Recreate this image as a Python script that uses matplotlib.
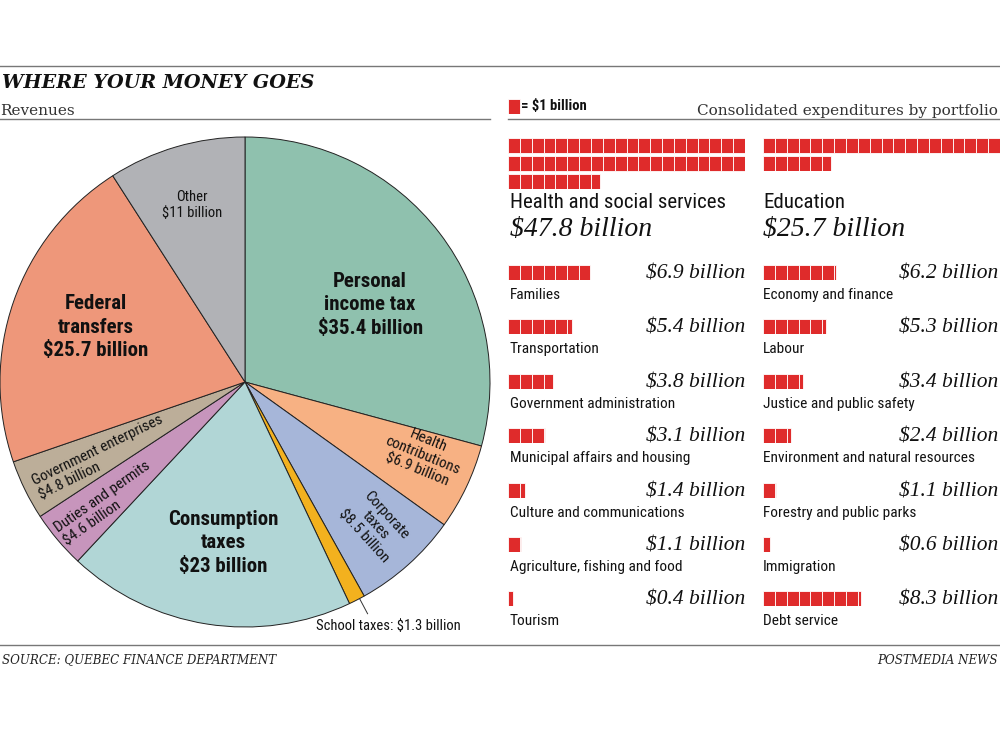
import os
import numpy as np
import matplotlib
matplotlib.use('Agg')
import matplotlib.pyplot as plt
from matplotlib import font_manager as fm

# ---------------- data ----------------
rev_labels = ['Personal income tax', 'Health contributions', 'Corporate taxes',
              'School taxes', 'Consumption taxes', 'Duties and permits',
              'Government enterprises', 'Federal transfers', 'Other']
rev_values = [35.4, 6.9, 8.5, 1.3, 23.0, 4.6, 4.8, 25.7, 11.0]
rev_text = ['Personal\nincome tax\n$35.4 billion',
            'Health\ncontributions\n$6.9 billion',
            'Corporate\ntaxes\n$8.5 billion',
            'School taxes: $1.3 billion',
            'Consumption\ntaxes\n$23 billion',
            'Duties and permits\n$4.6 billion',
            'Government enterprises\n$4.8 billion',
            'Federal\ntransfers\n$25.7 billion',
            'Other\n$11 billion']

big_labels = ['Health and social services', 'Education']
big_values = [47.8, 25.7]

left_labels = ['Families', 'Transportation', 'Government administration',
               'Municipal affairs and housing', 'Culture and communications',
               'Agriculture, fishing and food', 'Tourism']
left_values = [6.9, 5.4, 3.8, 3.1, 1.4, 1.1, 0.4]

right_labels = ['Economy and finance', 'Labour', 'Justice and public safety',
                'Environment and natural resources', 'Forestry and public parks',
                'Immigration', 'Debt service']
right_values = [6.2, 5.3, 3.4, 2.4, 1.1, 0.6, 8.3]

# ---------------- fonts ----------------
_files = sorted({f.fname for f in fm.fontManager.ttflist})
_base = {os.path.basename(f).lower(): f for f in _files}


def _find(names, generic_bold):
    for n in names:
        if n.lower() in _base:
            return _base[n.lower()]
    for b, f in _base.items():
        if ('narrow' in b or 'condensed' in b or 'cond' in b) and \
                'italic' not in b and 'oblique' not in b and 'mono' not in b:
            isb = 'bold' in b and 'semibold' not in b and 'extrabold' not in b
            other = any(k in b for k in ['light', 'thin', 'medium', 'black',
                                         'semibold', 'extrabold', 'extralight'])
            if generic_bold and isb and not other:
                return f
            if not generic_bold and not isb and not other and 'bold' not in b:
                return f
    return None


_reg = _find(['LiberationSansNarrow-Regular.ttf', 'RobotoCondensed-Regular.ttf',
              'NotoSans-SemiCondensed.ttf', 'NotoSans-Condensed.ttf',
              'OpenSans-CondensedRegular.ttf', 'DejaVuSansCondensed.ttf'], False)
_bold = _find(['LiberationSansNarrow-Bold.ttf', 'RobotoCondensed-Bold.ttf',
               'NotoSans-SemiCondensedBold.ttf', 'NotoSans-CondensedBold.ttf',
               'OpenSans-CondensedBold.ttf', 'DejaVuSansCondensed-Bold.ttf'], True)


def sans(size, bold=False):
    f = _bold if bold else _reg
    if f is None:
        return fm.FontProperties(family=['Liberation Sans', 'DejaVu Sans'],
                                 weight='bold' if bold else 'normal', size=size)
    return fm.FontProperties(fname=f, size=size)


# ---------------- style ----------------
W, H = 1000, 750
pie_colors = ['#8fc1ae', '#f7b183', '#a6b6d9', '#f3b11e', '#b1d6d6',
              '#c795bc', '#bcae99', '#ee977a', '#b1b2b6']
RED = '#df2b2b'
RULE = '#777777'
SERIF = ['DejaVu Serif']
ISERIF = ['Liberation Serif', 'DejaVu Serif']

# per wedge label placement:
# (radius, angle offset, rotation (None = horizontal), size, bold, align, linespacing)
label_style = [
    (0.60, -5.8, None, 15, True, 'center', 1.32),
    (0.785, 3.0, 'radial', 11, False, 'center', 1.12),
    (0.79, 0.6, 'radial', 11, False, 'center', 1.12),
    None,
    (0.663, 1.1, None, 15, True, 'center', 1.32),
    (0.751, 1.1, 35, 11, False, 'left', 1.12),
    (0.665, 1.3, 26, 11, False, 'left', 1.12),
    (0.648, -1.1, None, 15, True, 'center', 1.32),
    (0.754, 0.4, None, 10.5, False, 'center', 1.2),
]

fig = plt.figure(figsize=(W / 100, H / 100), dpi=100)
bg = fig.add_axes([0, 0, 1, 1])
bg.set_xlim(0, W)
bg.set_ylim(H, 0)
bg.axis('off')

# rules
bg.plot([0, 1000], [66, 66], color=RULE, lw=1)
bg.plot([0, 490], [119, 119], color=RULE, lw=1)
bg.plot([508, 1000], [119, 119], color=RULE, lw=1)
bg.plot([0, 1000], [645, 645], color=RULE, lw=1)

# header texts
bg.text(2, 83, 'WHERE YOUR MONEY GOES', family=SERIF, style='italic',
        weight='bold', fontsize=13.8, color='#111111', va='center', ha='left')
bg.text(0, 111, 'Revenues', family=SERIF, fontsize=11, color='#333333',
        va='center', ha='left')
bg.text(998, 111, 'Consolidated expenditures by portfolio', family=SERIF,
        fontsize=11, color='#333333', va='center', ha='right')
bg.text(2, 660, 'SOURCE: QUEBEC FINANCE DEPARTMENT', family=SERIF,
        style='italic', fontsize=8.6, color='#222222', va='center', ha='left')
bg.text(998, 660, 'POSTMEDIA NEWS', family=SERIF, style='italic',
        fontsize=8.6, color='#222222', va='center', ha='right')

# ---------------- pie ----------------
cx, cy, R = 245, 382, 245
pax = fig.add_axes([(cx - R) / W, 1 - (cy + R) / H, 2 * R / W, 2 * R / H])
wedges, _ = pax.pie(rev_values, colors=pie_colors, startangle=90,
                    counterclock=False, radius=1,
                    wedgeprops=dict(edgecolor='#222222', linewidth=0.7))
for w in wedges:
    w.set_clip_on(False)
pax.set_xlim(-1, 1)
pax.set_ylim(-1, 1)
pax.axis('off')

for w, txt, st in zip(wedges, rev_text, label_style):
    mid = (w.theta1 + w.theta2) / 2
    if st is None:
        a = np.deg2rad(mid + 0.7)
        pax.plot([np.cos(a), 1.07 * np.cos(a)], [np.sin(a), 1.07 * np.sin(a)],
                 color='#333333', lw=0.7, clip_on=False)
        pax.text(1.07 * np.cos(a) - 0.21, 1.07 * np.sin(a) - 0.05, txt,
                 fontproperties=sans(10.5), ha='left', va='center',
                 color='#111111')
        continue
    r, off, rot, size, bold, align, ls = st
    a = np.deg2rad(mid + off)
    if rot is None:
        rot = 0
    elif rot == 'radial':
        rot = mid + off
    pax.text(r * np.cos(a), r * np.sin(a), txt, fontproperties=sans(size, bold),
             ha='center', va='center', rotation=rot, multialignment=align,
             rotation_mode='anchor', linespacing=ls, color='#111111')

# ---------------- unit squares ----------------
SQ = 11.85
ROW = 18
SQH = 15


def unit_block(left_px, top_px, value, per_row=20):
    n = int(np.ceil(value - 1e-9))
    n_rows = int(np.ceil(n / per_row))
    h = (n_rows - 1) * ROW + SQH
    w = per_row * SQ
    ax = fig.add_axes([left_px / W, 1 - (top_px + h) / H, w / W, h / H])
    ax.set_xlim(0, per_row)
    ax.set_ylim((n_rows - 1) + SQH / ROW, 0)
    ax.axis('off')
    idx = np.arange(n)
    widths = np.minimum(1.0, value - idx)
    ax.bar(idx % per_row, SQH / ROW, width=widths, bottom=idx // per_row,
           align='edge', color=RED, edgecolor='white', linewidth=0.6)
    return ax


# legend
unit_block(508, 99, 1.0)
bg.text(521, 106, '= $1 billion', fontproperties=sans(10.5, True),
        color='#111111', va='center', ha='left')

# big blocks
for x0, dx, lab, val in zip([508, 763], [2, 0], big_labels, big_values):
    unit_block(x0, 138, val)
    bg.text(x0 + dx, 203, lab, fontproperties=sans(15), color='#111111',
            va='center', ha='left')
    bg.text(x0 + dx, 229, f'${val} billion', family=ISERIF, style='italic',
            fontsize=20, color='#111111', va='center', ha='left')

# small rows
for x0, dx, xr, labels, values in [(508, 2, 745, left_labels, left_values),
                                   (763, 0, 998, right_labels, right_values)]:
    for i, (lab, val) in enumerate(zip(labels, values)):
        top = 265 + 54.4 * i
        unit_block(x0, top, val)
        bg.text(xr, top + 9, f'${val} billion', family=ISERIF, style='italic',
                fontsize=15.5, color='#111111', va='center', ha='right')
        bg.text(x0 + dx, top + 30, lab, fontproperties=sans(11.1),
                color='#111111', va='center', ha='left')

fig.savefig('out.png', dpi=100, facecolor='white')
